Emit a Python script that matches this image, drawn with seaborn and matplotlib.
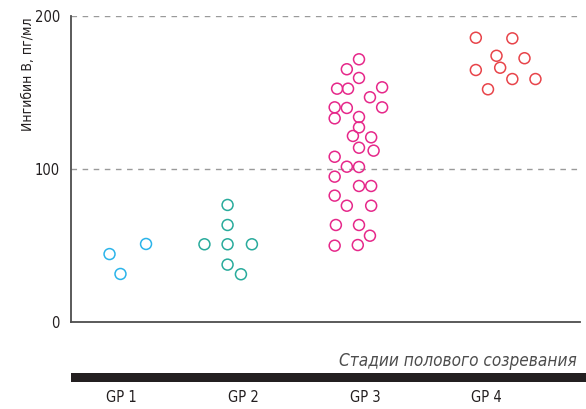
import matplotlib
matplotlib.use("Agg")
import matplotlib.pyplot as plt
from matplotlib.patches import Rectangle
import pandas as pd
import seaborn as sns

# Puberty stages and their marker colours
groups = ["GP 1", "GP 2", "GP 3", "GP 4"]
colors = ["#2bb4ea", "#29ab9c", "#e6288a", "#e8444a"]

# Inhibin B, pg/ml, per individual, with the horizontal spread of each dot
gp1_values = [44.4, 31.4, 51.0]
gp1_offsets = [-0.10, -0.01, 0.20]

gp2_values = [76.5, 63.4, 50.8, 50.8, 50.8, 37.5, 31.2]
gp2_offsets = [-0.13, -0.13, -0.32, -0.13, 0.07, -0.13, -0.02]

gp3_values = [171.7, 165.2, 159.5, 152.5, 152.5, 153.4, 146.9, 140.3, 139.9,
              140.3, 133.1, 134.0, 127.2, 121.6, 120.7, 113.9, 112.0, 108.0,
              101.5, 101.3, 95.0, 88.9, 88.9, 82.6, 76.0, 76.0, 63.4, 63.4,
              56.4, 49.9, 50.3]
gp3_offsets = [-0.05, -0.15, -0.05, -0.23, -0.14, 0.14, 0.04, -0.25, -0.15,
               0.14, -0.25, -0.05, -0.05, -0.10, 0.05, -0.05, 0.07, -0.25,
               -0.15, -0.05, -0.25, -0.05, 0.05, -0.25, -0.15, 0.05, -0.24,
               -0.05, 0.04, -0.25, -0.06]

gp4_values = [185.8, 185.4, 174.0, 172.4, 164.7, 166.2, 158.8, 158.8, 152.1]
gp4_offsets = [-0.09, 0.21, 0.08, 0.31, -0.09, 0.11, 0.21, 0.40, 0.01]

y_ticks = [0, 100, 200]
y_label = "Ингибин В, пг/мл"
x_caption = "Стадии полового созревания"

values = [gp1_values, gp2_values, gp3_values, gp4_values]
offsets = [gp1_offsets, gp2_offsets, gp3_offsets, gp4_offsets]
rows = []
for i, (g, vals, offs) in enumerate(zip(groups, values, offsets)):
    for v, o in zip(vals, offs):
        rows.append({"group": g, "x": i + o, "value": v})
df = pd.DataFrame(rows)

sns.set_theme(style="white")
plt.rcParams["font.family"] = ["DejaVu Sans"]
plt.rcParams["font.stretch"] = "condensed"

fig = plt.figure(figsize=(5.86, 4.09), dpi=100)
ax = fig.add_axes([71 / 586, 87 / 409, 509 / 586, 306 / 409])

sns.scatterplot(data=df, x="x", y="value", hue="group", hue_order=groups,
                palette=colors, ax=ax, s=62, marker="o",
                linewidth=1.1, legend=False)
# open circles: edge takes the hue colour
for coll in ax.collections:
    fc = coll.get_facecolors()
    coll.set_edgecolors(fc)
    coll.set_facecolors("none")

ax.set_xlim(-0.4166, 3.766)
ax.set_ylim(0, 200)

for yv in [100, 200]:
    ax.axhline(yv, color="#9a9a9a", lw=1.0, ls=(0, (4, 4)), zorder=0)

ax.set_yticks(y_ticks)
ax.set_yticklabels([str(t) for t in y_ticks], fontsize=10.5, color="#231f20",
                   fontstretch="condensed")
ax.tick_params(axis="y", length=0, pad=8)
ax.set_xticks(range(len(groups)))
ax.set_xticklabels(groups, fontsize=10.5, color="#231f20",
                   fontstretch="condensed")
ax.tick_params(axis="x", length=0, pad=49)
ax.set_xlabel("")
ax.set_ylabel("")

for side in ["top", "right"]:
    ax.spines[side].set_visible(False)
for side in ["left", "bottom"]:
    ax.spines[side].set_color("#4d4d4d")
    ax.spines[side].set_linewidth(1.3)

fig.text(28 / 586, 1 - 74 / 409, y_label, rotation=90, ha="center",
         va="center", fontsize=10, color="#231f20", fontstretch="condensed")
fig.text(577 / 586, 1 - 361 / 409, x_caption, ha="right", va="center",
         fontsize=12.3, style="italic", color="#4d4d4d",
         fontstretch="condensed")
fig.add_artist(Rectangle((71 / 586, 27 / 409), 1 - 71 / 586, 9 / 409,
                         transform=fig.transFigure, color="#231f20", lw=0))

fig.savefig("out.png", dpi=100)
